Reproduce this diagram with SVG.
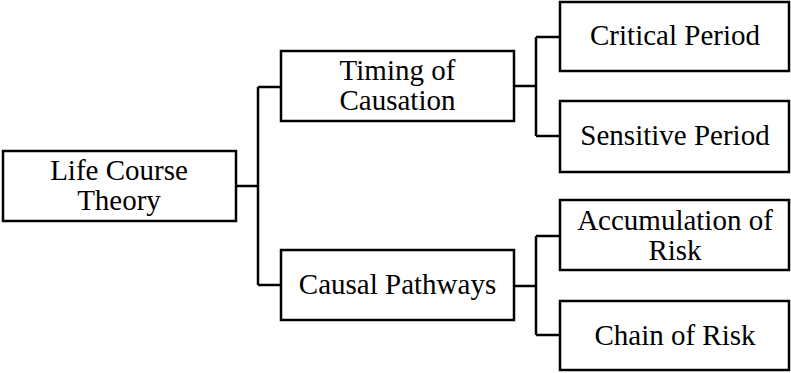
<svg xmlns="http://www.w3.org/2000/svg" width="791" height="373" viewBox="0 0 791 373">
<style>
.box{fill:#fff;stroke:#000;stroke-width:2.5}
.t{font-family:"Liberation Serif","Times New Roman",serif;font-size:29px;fill:#000;text-anchor:middle}
.c{fill:none;stroke:#000;stroke-width:2.5}
</style>
<rect width="791" height="373" fill="#fff"/>
<g id="connectors">
<path class="c" d="M236,186 H258 M258,87 V285 M258,87 H281 M258,285 H281"/>
<path class="c" d="M514,86 H536 M536,37 V136 M536,37 H560 M536,136 H560"/>
<path class="c" d="M514,286 H536 M536,236 V335 M536,236 H560 M536,335 H560"/>
</g>
<g id="root">
<rect class="box" x="3" y="151" width="233" height="70"/>
<text class="t" x="119" y="180">Life Course</text>
<text class="t" x="119" y="210">Theory</text>
</g>
<g id="timing">
<rect class="box" x="281" y="51" width="233" height="70"/>
<text class="t" x="397.5" y="80">Timing of</text>
<text class="t" x="397.5" y="110">Causation</text>
</g>
<g id="pathways">
<rect class="box" x="281" y="250" width="233" height="70"/>
<text class="t" x="397.5" y="294">Causal Pathways</text>
</g>
<g id="critical">
<rect class="box" x="560" y="2" width="229" height="69"/>
<text class="t" x="675" y="45">Critical Period</text>
</g>
<g id="sensitive">
<rect class="box" x="560" y="101" width="229" height="71"/>
<text class="t" x="675" y="145">Sensitive Period</text>
</g>
<g id="accumulation">
<rect class="box" x="560" y="200" width="229" height="70"/>
<text class="t" x="675" y="230">Accumulation of</text>
<text class="t" x="675" y="260">Risk</text>
</g>
<g id="chain">
<rect class="box" x="560" y="301" width="229" height="69"/>
<text class="t" x="675" y="345">Chain of Risk</text>
</g>
</svg>
